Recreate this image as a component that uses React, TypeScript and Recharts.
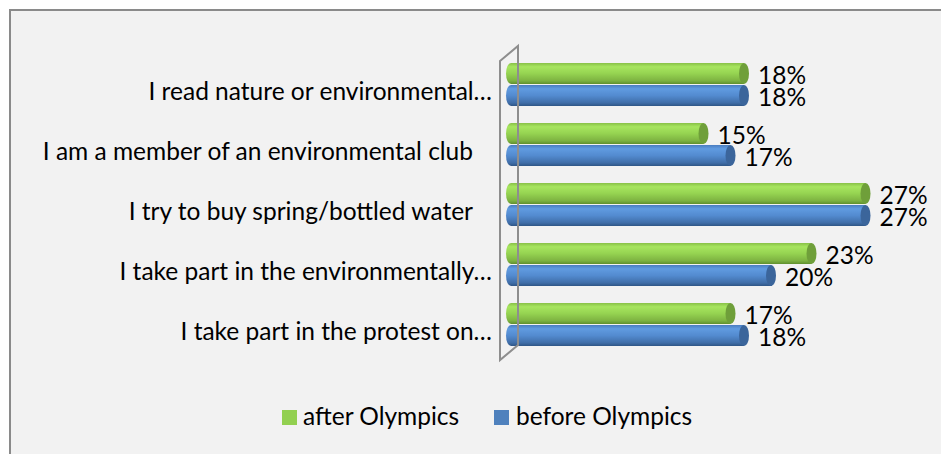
import { BarChart, Bar, XAxis, YAxis, Legend, LabelList, ReferenceLine } from 'recharts';

const categories = [
  'I read nature or environmental…',
  'I am a member of an environmental club ',
  'I try to buy spring/bottled water ',
  'I take part in the environmentally…',
  'I take part in the protest on…',
];
const afterOlympics = [18, 15, 27, 23, 17];
const beforeOlympics = [18, 17, 27, 20, 18];

const FONT = 'Lato, "Open Sans", sans-serif';
const FONT_SIZE = 24.5;
const GREEN = '#92d050';
const BLUE = '#4f81bd';

const data = categories.map((name, i) => ({
  name,
  after: afterOlympics[i],
  before: beforeOlympics[i],
}));

// cylinder-ish bar: rounded left end + darker elliptical cap on the right
const Cylinder = (props: any) => {
  const { x, y, width, height, grad, cap } = props;
  if (!width || width <= 0) return null;
  const rx = 5;
  const ry = height / 2;
  const body = `M${x + rx},${y} H${x + width - rx} V${y + height} H${x + rx} A${rx},${ry} 0 0 1 ${x + rx},${y} Z`;
  return (
    <g>
      <path d={body} fill={`url(#${grad})`} />
      <ellipse cx={x + width - rx} cy={y + ry} rx={rx} ry={ry} fill={cap} />
    </g>
  );
};

const ValueLabel = (props: any) => {
  const { x, y, width, height, value } = props;
  return (
    <text x={x + width + 9} y={y + height / 2 + 10.5} fontSize={FONT_SIZE} fill="#000" fontFamily={FONT}>
      {value}%
    </text>
  );
};

const CategoryTick = (props: any) => {
  const { y, payload } = props;
  const label: string = payload.value;
  const trailing = label.endsWith(' ');
  return (
    <text x={trailing ? 462 : 481} y={y + 16} textAnchor="end" fontSize={FONT_SIZE} fill="#000" fontFamily={FONT}>
      {label.trimEnd()}
    </text>
  );
};

const Wall = (props: any) => {
  const { x1, y1, y2 } = props;
  const top = Math.min(y1, y2);
  const bot = Math.max(y1, y2);
  const fx = x1 - 6;
  const bx = x1 + 12;
  const d = `M${fx},${top + 7} L${bx},${top - 8} L${bx},${bot - 9} L${fx},${bot + 6} Z`;
  return <path d={d} fill="none" stroke="#8e8e8e" strokeWidth={2} />;
};

const LegendContent = () => (
  <div style={{ position: 'relative', height: 80, fontFamily: FONT, fontSize: FONT_SIZE, color: '#000' }}>
    <div style={{ position: 'absolute', left: 271, top: 56, width: 15, height: 15, background: GREEN }} />
    <span style={{ position: 'absolute', left: 292, top: 49, lineHeight: '25px', whiteSpace: 'nowrap' }}>after Olympics</span>
    <div style={{ position: 'absolute', left: 483, top: 56, width: 15, height: 15, background: BLUE }} />
    <span style={{ position: 'absolute', left: 505, top: 49, lineHeight: '25px', whiteSpace: 'nowrap' }}>before Olympics</span>
  </div>
);

export default function App() {
  return (
    <div
      style={{
        position: 'fixed',
        left: 9,
        top: 9,
        width: 960,
        height: 470,
        border: '2px solid #8a8a8a',
        background: '#f2f2f2',
      }}
    >
      <BarChart
        width={930}
        height={440}
        data={data}
        layout="vertical"
        margin={{ top: 43, right: 30, bottom: 17, left: 0 }}
        barSize={21}
        barGap={1}
      >
        <defs>
          <linearGradient id="gG" x1="0" y1="0" x2="0" y2="1">
            <stop offset="0%" stopColor="#88c147" />
            <stop offset="18%" stopColor="#a7e55f" />
            <stop offset="50%" stopColor="#95d351" />
            <stop offset="85%" stopColor="#7db241" />
            <stop offset="100%" stopColor="#5f8f2e" />
          </linearGradient>
          <linearGradient id="gB" x1="0" y1="0" x2="0" y2="1">
            <stop offset="0%" stopColor="#4a7dc0" />
            <stop offset="18%" stopColor="#609be0" />
            <stop offset="50%" stopColor="#538bd0" />
            <stop offset="85%" stopColor="#406ea8" />
            <stop offset="100%" stopColor="#2f5686" />
          </linearGradient>
        </defs>
        <XAxis type="number" domain={[0, 30]} hide />
        <YAxis type="category" dataKey="name" width={495} axisLine={false} tickLine={false} tick={<CategoryTick />} interval={0} />
        <ReferenceLine x={0} shape={<Wall />} />
        <Bar
          dataKey="after"
          name="after Olympics"
          fill={GREEN}
          isAnimationActive={false}
          shape={(p: any) => <Cylinder {...p} grad="gG" cap="#6f9f3a" />}
        >
          <LabelList dataKey="after" content={<ValueLabel />} />
        </Bar>
        <Bar
          dataKey="before"
          name="before Olympics"
          fill={BLUE}
          isAnimationActive={false}
          shape={(p: any) => <Cylinder {...p} grad="gB" cap="#3b659b" />}
        >
          <LabelList dataKey="before" content={<ValueLabel />} />
        </Bar>
        <Legend verticalAlign="bottom" height={80} content={<LegendContent />} wrapperStyle={{ left: 0, width: 930 }} />
      </BarChart>
    </div>
  );
}
